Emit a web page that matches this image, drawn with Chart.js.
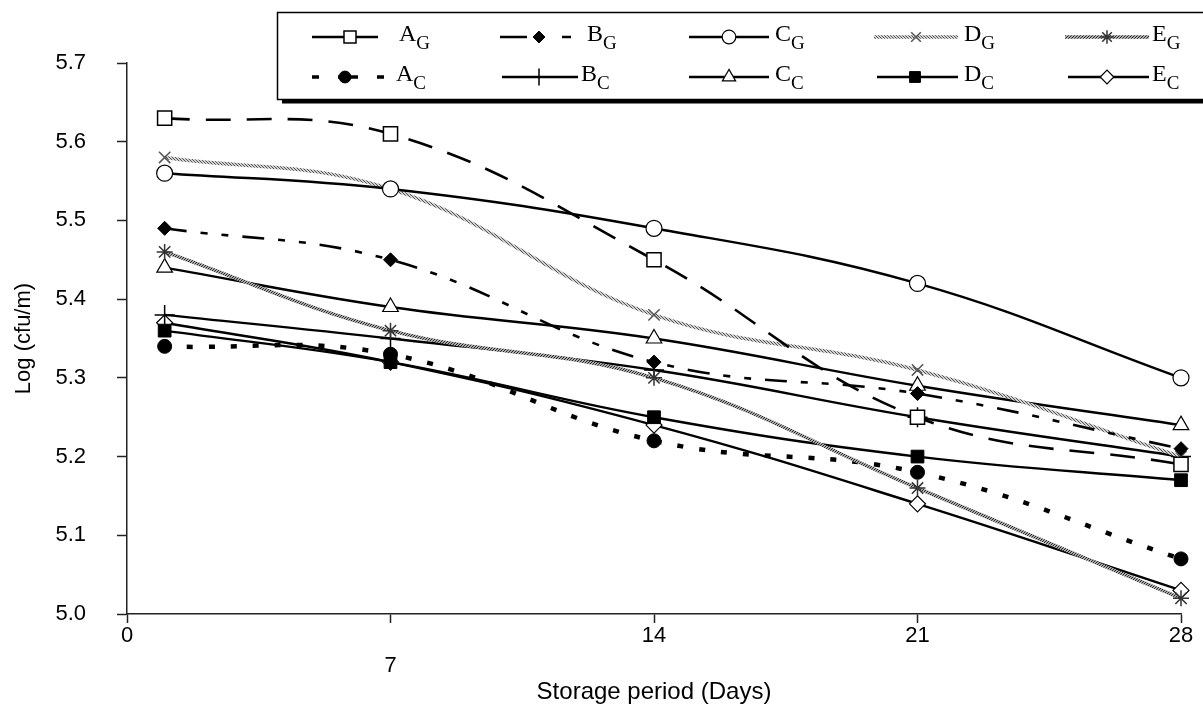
<!DOCTYPE html>
<html>
<head>
<meta charset="utf-8">
<script src="https://cdn.jsdelivr.net/npm/chart.js@4.4.1/dist/chart.umd.min.js"></script>
<style>
html,body{margin:0;padding:0;background:#fff;}
#wrap{width:1203px;height:708px;position:relative;overflow:hidden;}
</style>
</head>
<body>
<div id="wrap"><canvas id="c" width="1203" height="708"></canvas></div>
<script>
// ---- data ----
const days = [1, 7, 14, 21, 28];
const xTickValues = [0, 7, 14, 21, 28];
const yTickValues = [5.0, 5.1, 5.2, 5.3, 5.4, 5.5, 5.6, 5.7];
const seriesLetters = ['A', 'B', 'C', 'D', 'E', 'A', 'B', 'C', 'D', 'E'];
const seriesSubs = ['G', 'G', 'G', 'G', 'G', 'C', 'C', 'C', 'C', 'C'];
const A_G = [5.63, 5.61, 5.45, 5.25, 5.19];
const B_G = [5.49, 5.45, 5.32, 5.28, 5.21];
const C_G = [5.56, 5.54, 5.49, 5.42, 5.30];
const D_G = [5.58, 5.54, 5.38, 5.31, 5.20];
const E_G = [5.46, 5.36, 5.30, 5.16, 5.02];
const A_C = [5.34, 5.33, 5.22, 5.18, 5.07];
const B_C = [5.38, 5.35, 5.31, 5.25, 5.20];
const C_C = [5.44, 5.39, 5.35, 5.29, 5.24];
const D_C = [5.36, 5.32, 5.25, 5.20, 5.17];
const E_C = [5.37, 5.32, 5.24, 5.14, 5.03];
const yAxisTitle = 'Log (cfu/m)';
const xAxisTitle = 'Storage period (Days)';

// ---- textured line patterns ----
function makePattern(bg, fg, dir) {
  const p = document.createElement('canvas');
  p.width = 3; p.height = 3;
  const g = p.getContext('2d');
  g.fillStyle = bg; g.fillRect(0, 0, 3, 3);
  g.fillStyle = fg;
  for (let i = 0; i < 3; i++) {
    g.fillRect(dir > 0 ? i : 2 - i, i, 1, 1);
  }
  return document.getElementById('c').getContext('2d').createPattern(p, 'repeat');
}
const patD = makePattern('#d0d0d0', '#555555', 1);
const patE = makePattern('#a8a8a8', '#2a2a2a', -1);

const allValues = [A_G, B_G, C_G, D_G, E_G, A_C, B_C, C_C, D_C, E_C];
const styles = [
  {borderColor:'#000', borderWidth:2.6, borderDash:[25,16], pointStyle:'rect', pointRadius:10, pointBackgroundColor:'#fff', pointBorderColor:'#000', pointBorderWidth:1.5},
  {borderColor:'#000', borderWidth:2.6, borderDash:[22,14,7,14,7,14], pointStyle:'rectRot', pointRadius:7, pointBackgroundColor:'#000', pointBorderColor:'#000', pointBorderWidth:1},
  {borderColor:'#000', borderWidth:2.4, borderDash:[], pointStyle:'circle', pointRadius:8, pointBackgroundColor:'#fff', pointBorderColor:'#000', pointBorderWidth:1.2},
  {borderColor:patD, borderWidth:3.5, borderDash:[], pointStyle:'crossRot', pointRadius:8, pointBackgroundColor:'#666', pointBorderColor:'#555', pointBorderWidth:1.5},
  {borderColor:patE, borderWidth:3.5, borderDash:[], pointStyle:'star', pointRadius:8, pointBackgroundColor:'#333', pointBorderColor:'#333', pointBorderWidth:1.5},
  {borderColor:'#000', borderWidth:4.5, borderDash:[6,16], pointStyle:'circle', pointRadius:7, pointBackgroundColor:'#000', pointBorderColor:'#000', pointBorderWidth:1},
  {borderColor:'#000', borderWidth:2.4, borderDash:[], pointStyle:'cross', pointRadius:10, pointBackgroundColor:'#000', pointBorderColor:'#000', pointBorderWidth:1.5},
  {borderColor:'#000', borderWidth:2.4, borderDash:[], pointStyle:'triangle', pointRadius:9, pointBackgroundColor:'#fff', pointBorderColor:'#000', pointBorderWidth:1.2},
  {borderColor:'#000', borderWidth:2.4, borderDash:[], pointStyle:'rect', pointRadius:9, pointBackgroundColor:'#000', pointBorderColor:'#000', pointBorderWidth:1},
  {borderColor:'#000', borderWidth:2.4, borderDash:[], pointStyle:'rectRot', pointRadius:8, pointBackgroundColor:'#fff', pointBorderColor:'#000', pointBorderWidth:1.2}
];

const datasets = allValues.map((vals, i) => Object.assign({
  label: seriesLetters[i] + seriesSubs[i],
  data: days.map((d, j) => ({x: d, y: vals[j]})),
  tension: 0.4,
  fill: false,
  clip: false,
  pointHoverRadius: styles[i].pointRadius
}, styles[i]));

// legend layout (positions only)
const legendPos = [
  {x1:312, x2:378, m:350, t:399, row:0, dash:[]},
  {x1:500, x2:572, m:539, t:587, row:0, dash:[27,35,9,100]},
  {x1:689, x2:769, m:729, t:775, row:0, dash:[]},
  {x1:874, x2:958, m:916, t:964, row:0, dash:[]},
  {x1:1065, x2:1149, m:1107, t:1152, row:0, dash:[]},
  {x1:312, x2:386, m:345, t:396, row:1, dash:[7,19,20,19,7,100]},
  {x1:502, x2:578, m:539, t:581, row:1, dash:[]},
  {x1:689, x2:769, m:729, t:775, row:1, dash:[]},
  {x1:877, x2:958, m:915, t:964, row:1, dash:[]},
  {x1:1068, x2:1149, m:1107, t:1152, row:1, dash:[]}
];
const rowY = [37, 77];

const boxLegend = {
  id: 'boxLegend',
  afterDraw(chart) {
    const ctx = chart.ctx;
    ctx.save();
    ctx.fillStyle = '#fff';
    ctx.fillRect(277, 12, 960, 87);
    ctx.strokeStyle = '#000';
    ctx.lineWidth = 1.5;
    ctx.strokeRect(277.5, 12.5, 960, 87);
    ctx.fillStyle = '#000';
    ctx.fillRect(282, 99, 960, 4.5);
    chart.data.datasets.forEach((ds, i) => {
      const L = legendPos[i];
      const y = rowY[L.row];
      ctx.save();
      ctx.strokeStyle = ds.borderColor;
      ctx.lineWidth = Math.min(ds.borderWidth, 3.5);
      ctx.setLineDash(L.dash);
      ctx.beginPath();
      ctx.moveTo(L.x1, y);
      ctx.lineTo(L.x2, y);
      ctx.stroke();
      ctx.setLineDash([]);
      ctx.fillStyle = ds.pointBackgroundColor;
      ctx.strokeStyle = ds.pointBorderColor;
      ctx.lineWidth = ds.pointBorderWidth;
      Chart.helpers.drawPoint(ctx, {pointStyle: ds.pointStyle, radius: ds.pointRadius * 0.85, borderWidth: ds.pointBorderWidth, rotation: 0}, L.m, y);
      ctx.restore();
      ctx.fillStyle = '#000';
      ctx.textBaseline = 'alphabetic';
      ctx.textAlign = 'left';
      ctx.font = '24px "Liberation Serif", "Times New Roman", serif';
      const letter = seriesLetters[i];
      ctx.fillText(letter, L.t, y + 4);
      const w = ctx.measureText(letter).width;
      ctx.font = '19px "Liberation Serif", "Times New Roman", serif';
      ctx.fillText(seriesSubs[i], L.t + w, y + 12);
    });
    ctx.restore();
  }
};

new Chart(document.getElementById('c'), {
  type: 'line',
  data: { datasets },
  options: {
    responsive: false,
    animation: false,
    devicePixelRatio: 1,
    layout: { padding: { top: 63, right: 22, left: 0, bottom: 0 } },
    plugins: { legend: { display: false }, tooltip: { enabled: false } },
    scales: {
      x: {
        type: 'linear',
        min: 0, max: 28,
        afterBuildTicks: s => { s.ticks = xTickValues.map(v => ({value: v})); },
        afterFit: s => { s.height = 94; },
        grid: { drawOnChartArea: false, drawTicks: true, tickLength: 9, tickColor: '#222', tickWidth: 1.5 },
        border: { display: true, color: '#222', width: 1.5 },
        ticks: {
          color: '#000',
          padding: -2,
          maxRotation: 0,
          autoSkip: false,
          font: { family: '"Liberation Sans", Arial, sans-serif', size: 22, lineHeight: '30px' },
          callback: v => (v === 7 ? ['', '7'] : String(v))
        },
        title: {
          display: true, text: xAxisTitle, color: '#000',
          font: { family: '"Liberation Sans", Arial, sans-serif', size: 24 },
          padding: { top: 0, bottom: 1 }
        }
      },
      y: {
        type: 'linear',
        min: 5.0, max: 5.7,
        afterBuildTicks: s => { s.ticks = yTickValues.map(v => ({value: v})); },
        afterFit: s => { s.width = 127; },
        grid: { drawOnChartArea: false, drawTicks: true, tickLength: 10, tickColor: '#222', tickWidth: 1.5 },
        border: { display: true, color: '#222', width: 1.5 },
        ticks: {
          color: '#000',
          padding: 31,
          font: { family: '"Liberation Sans", Arial, sans-serif', size: 22 },
          callback: v => Number(v).toFixed(1)
        },
        title: {
          display: true, text: yAxisTitle, color: '#000',
          font: { family: '"Liberation Sans", Arial, sans-serif', size: 22 },
          padding: { top: 11, bottom: 0 }
        }
      }
    }
  },
  plugins: [boxLegend]
});
</script>
</body>
</html>
